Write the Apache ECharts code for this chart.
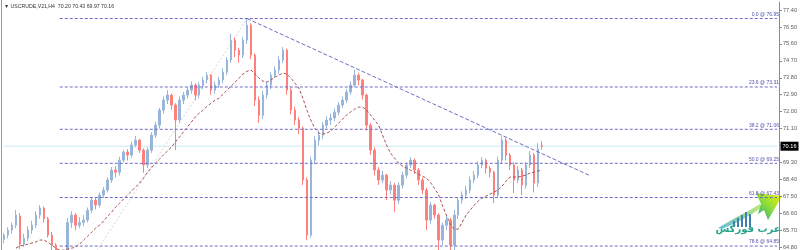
<!DOCTYPE html>
<html>
<head>
<meta charset="utf-8">
<script src="https://cdn.jsdelivr.net/npm/echarts@6/dist/echarts.min.js"></script>
<style>
html,body{margin:0;padding:0;background:#fff;}
#chart{width:801px;height:250px;}
</style>
</head>
<body>
<div id="chart"></div>
<script>
// ---- data ----
const slotCount = 195;
const opens = [
65.20,65.43,65.70,65.96,66.45,64.95,65.27,65.70,65.96,66.50,
66.87,66.30,65.43,64.90,64.20,62.80,64.10,66.10,66.50,65.96,
66.10,66.23,66.76,67.29,67.03,67.56,67.83,68.36,68.89,68.78,
69.42,69.85,69.69,70.22,70.48,69.95,69.16,69.95,70.75,71.28,
72.08,72.61,72.88,72.35,71.55,72.61,72.88,73.14,73.41,72.88,
73.41,73.68,73.94,73.14,73.41,73.68,74.10,74.74,75.80,75.27,
75.01,75.80,76.60,75.01,72.61,71.81,72.88,73.41,73.94,74.21,
74.74,75.27,73.14,72.08,71.55,71.12,68.36,65.43,69.42,70.48,
70.75,71.28,71.55,71.66,71.97,72.35,72.61,73.04,73.41,73.94,
73.68,72.88,71.28,69.95,68.89,68.36,68.62,67.83,68.09,67.29,
68.09,68.62,69.16,69.42,68.89,68.36,67.83,66.23,67.03,66.50,
65.17,65.96,66.23,64.90,66.50,67.29,67.56,67.83,68.36,68.62,
69.16,69.42,68.99,68.78,67.56,69.42,70.48,69.69,69.16,68.36,
68.89,68.09,69.16,69.69,68.20,70.20];
const closes = [
65.43,65.70,65.96,66.50,64.95,65.27,65.70,65.96,66.50,66.87,
66.30,65.43,64.90,64.20,62.80,64.10,66.10,66.50,65.96,66.10,
66.23,66.76,67.29,67.03,67.56,67.83,68.36,68.89,68.78,69.42,
69.85,69.69,70.22,70.48,69.95,69.16,69.95,70.75,71.28,72.08,
72.61,72.88,72.35,71.55,72.61,72.88,73.14,73.41,72.88,73.41,
73.68,73.94,73.14,73.41,73.68,74.10,74.74,75.80,75.27,75.01,
75.80,76.60,75.01,72.61,71.81,72.88,73.41,73.94,74.21,74.74,
75.27,73.14,72.08,71.55,71.12,68.36,65.43,69.42,70.48,70.75,
71.28,71.55,71.66,71.97,72.35,72.61,73.04,73.41,73.94,73.68,
72.88,71.28,69.95,68.89,68.36,68.62,67.83,68.09,67.29,68.09,
68.62,69.16,69.42,68.89,68.36,67.83,66.23,67.03,66.50,65.17,
65.96,66.23,64.90,66.50,67.29,67.56,67.83,68.36,68.62,69.16,
69.42,68.99,68.78,67.56,69.42,70.48,69.69,69.16,68.36,68.89,
68.09,69.16,69.69,68.20,70.00,70.16];
const lows = [
65.00,65.25,65.50,65.80,64.70,64.80,65.10,65.50,65.80,66.30,
66.10,65.30,64.50,63.60,61.55,62.50,63.90,65.80,65.70,65.80,
65.90,66.10,66.60,66.80,66.90,67.40,67.70,68.20,68.50,68.60,
69.30,69.40,69.55,70.10,69.80,68.75,69.00,69.80,70.60,71.10,
71.90,72.40,72.10,69.95,71.40,72.40,72.70,72.95,72.60,72.70,
73.20,73.50,72.90,72.95,73.25,73.50,73.95,74.60,74.90,74.60,
74.85,75.60,74.80,72.30,71.40,71.60,72.70,73.20,73.80,74.00,
74.60,72.90,71.85,71.30,70.80,68.10,65.17,65.30,69.20,70.20,
70.55,71.10,71.30,71.50,71.80,72.20,72.45,72.90,73.30,73.40,
72.65,71.00,69.70,68.60,68.10,68.20,67.29,67.60,66.65,67.10,
67.90,68.45,69.00,68.70,68.10,67.60,65.70,66.05,66.30,64.40,
64.90,65.70,64.50,64.60,66.30,67.10,67.35,67.65,68.20,68.45,
69.00,68.70,68.50,67.14,67.40,69.25,69.40,68.90,67.67,68.20,
67.56,67.90,69.00,67.70,68.00,69.97];
const highs = [
65.55,65.85,66.10,66.76,66.60,65.50,65.90,66.20,66.70,67.03,
66.95,66.40,65.60,65.00,64.40,64.40,66.34,66.70,66.60,66.40,
66.50,66.90,67.45,67.40,67.70,67.99,68.50,69.05,69.10,69.60,
69.95,70.00,70.40,70.70,70.55,70.05,70.10,70.90,71.45,72.20,
72.80,73.14,72.95,72.45,72.80,73.05,73.30,73.60,73.50,73.55,
73.85,74.10,74.00,73.60,73.85,74.30,74.90,76.15,75.95,75.40,
75.95,76.95,76.70,75.10,72.80,73.10,73.60,74.10,74.40,74.95,
75.43,75.35,73.30,72.25,71.70,71.20,68.50,69.60,70.70,71.00,
71.45,71.75,71.90,72.15,72.50,72.80,73.20,73.60,74.21,74.05,
73.75,72.95,71.40,70.10,69.05,68.85,68.70,68.30,68.20,68.25,
68.80,69.30,69.58,69.50,69.00,68.50,67.95,67.20,67.10,66.60,
66.10,66.45,66.35,66.76,67.45,67.75,68.05,68.55,68.85,69.35,
69.58,69.50,69.10,68.85,69.60,70.69,70.60,69.80,69.30,69.10,
69.00,69.30,69.90,69.80,70.32,70.43];
const maValues = [
'-','-','-',64.74,64.85,64.90,64.95,65.01,65.06,65.17,
65.17,65.06,64.90,64.74,64.63,64.63,64.69,64.74,64.79,64.95,
65.17,65.38,65.59,65.80,65.96,66.18,66.44,66.65,66.92,67.13,
67.35,67.56,67.77,67.99,68.20,68.46,68.78,69.00,69.26,69.47,
69.69,69.90,70.11,70.38,70.64,70.91,71.18,71.44,71.71,71.92,
72.08,72.29,72.45,72.61,72.72,72.93,73.15,73.36,73.57,73.78,
74.00,74.15,74.21,74.00,73.78,73.62,73.57,73.68,73.84,73.94,
74.05,74.00,73.78,73.52,73.25,72.72,72.08,71.55,71.12,70.86,
70.80,70.86,70.96,71.18,71.39,71.60,71.82,71.98,72.13,72.24,
72.24,72.08,71.82,71.55,71.28,70.75,70.22,69.79,69.53,69.26,
69.10,69.00,68.89,68.78,68.68,68.57,68.46,68.25,67.93,67.61,
67.03,66.50,66.02,65.75,65.75,66.12,66.50,66.76,67.03,67.24,
67.40,67.51,67.61,67.72,67.83,68.04,68.30,68.52,68.52,68.52,
68.57,68.62,68.73,68.78,68.84,68.89];
const tickValues = [64.80,65.70,66.60,67.50,68.40,69.30,70.20,71.10,72.00,72.90,73.80,74.70,75.60,76.50,77.40];
const labelValues = [64.80,65.70,66.60,67.50,68.40,69.30,71.10,72.00,72.90,73.80,74.70,75.60,76.50,77.40];
const fibLevels = ['0.0','23.6','38.2','50.0','61.8','78.6'];
const fibPrices = [76.95,73.31,71.06,69.25,67.43,64.85];
const fibLow = {index:14, price:61.55};
const fibHigh = {index:61, price:76.95};
const trendStart = {index:61, price:76.95};
const trendEnd = {index:147, price:68.60};
const currentPrice = 70.16;
const headerText = '\u25BC USCRUDE,V21,H4  70.20 70.43 69.97 70.16';

// ---- build ----
const categories = [];
for (let i = 0; i < slotCount; i++) categories.push(String(i));
const candleData = opens.map((o, i) => [o, closes[i], lows[i], highs[i]]);
const lastIdx = slotCount - 1;
const FONT = 'Liberation Sans';
const hiddenSym = {symbol: 'circle', symbolSize: 1, showSymbol: true, itemStyle: {color: 'rgba(0,0,0,0)', opacity: 1}};

const fibSeries = fibLevels.map((lv, k) => Object.assign({
  type: 'line', z: 5, silent: true, animation: false,
  lineStyle: {color: '#6b6bc4', width: 1, type: [3, 2]},
  data: [[fibLow.index, fibPrices[k]], {value: [lastIdx, fibPrices[k]], label: {
    show: true, position: 'top', align: 'right', distance: 1, offset: [2, 0],
    formatter: lv + ' @ ' + fibPrices[k].toFixed(2),
    color: '#5252b0', fontSize: 5, fontFamily: FONT
  }}]
}, hiddenSym));

const chart = echarts.init(document.getElementById('chart'), null, {renderer: 'canvas'});
chart.setOption({
  animation: false,
  backgroundColor: '#ffffff',
  grid: {left: 2, right: 22, top: 2, height: 248, containLabel: false},
  xAxis: {type: 'category', data: categories, boundaryGap: true,
    axisLine: {show: false}, axisTick: {show: false}, axisLabel: {show: false}, splitLine: {show: false}},
  yAxis: {type: 'value', position: 'right', min: 64.64, max: 77.83, scale: true,
    axisLine: {show: true, lineStyle: {color: '#8a8a8a', width: 1}},
    axisTick: {show: true, length: 3, lineStyle: {color: '#8a8a8a'}, customValues: tickValues},
    axisLabel: {show: true, margin: 4, color: '#5a5a5a', fontSize: 5.6, fontFamily: FONT,
      customValues: labelValues, formatter: v => Number(v).toFixed(2)},
    splitLine: {show: false}},
  series: [
    Object.assign({type: 'line', z: 1, silent: true,
     lineStyle: {color: '#c9ecf3', width: 1},
     data: [[0, currentPrice], {value: [lastIdx, currentPrice], label: {
       show: true, position: 'right', distance: 3, formatter: currentPrice.toFixed(2),
       backgroundColor: '#000', color: '#fff', fontSize: 5.6, fontFamily: FONT, padding: [2, 2, 1, 2]}}]}, hiddenSym),
    {type: 'line', z: 1, silent: true, symbol: 'none',
     lineStyle: {color: '#d4d4d4', width: 1, type: [2, 2]},
     data: [[fibLow.index, fibLow.price], [fibHigh.index, fibHigh.price]]},
    {type: 'candlestick', z: 2, data: candleData, barWidth: 2,
     itemStyle: {color: '#97b6da', color0: '#ff7f7f', borderColor: '#97b6da', borderColor0: '#ff7f7f', borderWidth: 1}},
    {type: 'line', z: 4, silent: true, symbol: 'none', data: maValues,
     lineStyle: {color: '#a85252', width: 1, type: [3, 2]}},
    {type: 'line', z: 6, silent: true, symbol: 'none',
     lineStyle: {color: '#6e6ec8', width: 1, type: [4, 2]},
     data: [[trendStart.index, trendStart.price], [trendEnd.index, trendEnd.price]]}
  ].concat(fibSeries),
  graphic: [
    {type: 'line', shape: {x1: 1.5, y1: 0, x2: 1.5, y2: 250}, style: {stroke: '#9a9a9a', lineWidth: 1}, silent: true},
    {type: 'text', left: 4, top: 4, style: {text: headerText, fontSize: 5.2, fill: '#333', fontFamily: FONT}, silent: true},
    // watermark logo
    {type: 'group', silent: true, z: 100, children: [
      {type: 'polygon', shape: {points: [[718, 228], [735, 218], [750, 210], [760, 204], [762, 207], [752, 214], [738, 222], [722, 229]]},
       style: {fill: new echarts.graphic.LinearGradient(0, 1, 1, 0, [{offset: 0, color: '#52b6d6'}, {offset: 1, color: '#b8e860'}]), opacity: 0.9}},
      {type: 'rect', shape: {x: 733, y: 221, width: 2, height: 6}, style: {fill: '#3f7fb8'}},
      {type: 'rect', shape: {x: 737, y: 218, width: 2, height: 9}, style: {fill: '#3f7fb8'}},
      {type: 'rect', shape: {x: 741, y: 215, width: 2, height: 12}, style: {fill: '#3f7fb8'}},
      {type: 'rect', shape: {x: 745, y: 212, width: 2, height: 15}, style: {fill: '#3f7fb8'}},
      {type: 'rect', shape: {x: 749, y: 214, width: 2, height: 13}, style: {fill: '#3f7fb8'}},
      {type: 'polygon', shape: {points: [[756, 193], [782, 196], [768, 220], [764, 210], [758, 214], [761, 204]]},
       style: {fill: new echarts.graphic.LinearGradient(1, 0, 0, 1, [{offset: 0, color: '#f2f20a'}, {offset: 0.5, color: '#8fdc3a'}, {offset: 1, color: '#1aa88a'}])}},
      {type: 'text', x: 748, y: 229, style: {text: '\u0639\u0631\u0628 \u0641\u0648\u0631\u0643\u0633', fontSize: 10, fontWeight: 'bold', fontFamily: 'DejaVu Sans', fill: '#23a48c', align: 'center', verticalAlign: 'middle'}}
    ]}
  ]
});
</script>
</body>
</html>
